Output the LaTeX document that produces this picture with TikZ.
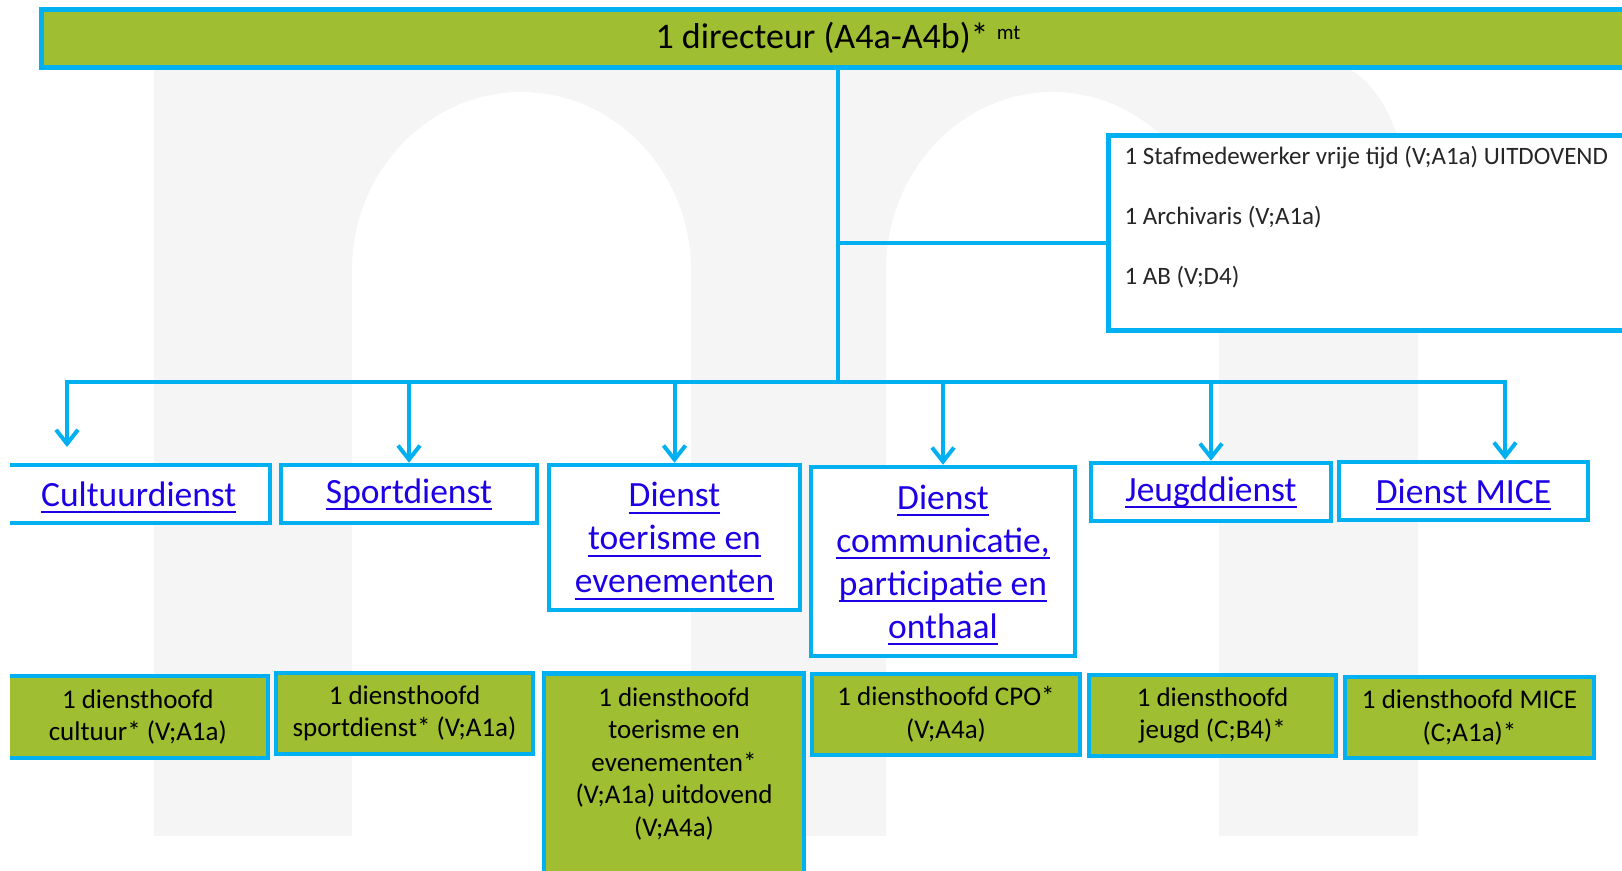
\documentclass[tikz,border=0pt]{standalone}
\usepackage{fontspec}
\setmainfont{Carlito}
\usetikzlibrary{arrows.meta}
\definecolor{ccyan}{HTML}{00B0F0}
\definecolor{cgreen}{HTML}{9FBE32}
\definecolor{clink}{HTML}{1E00E6}
\definecolor{cmark}{HTML}{F5F5F5}
\newcommand{\lnk}[1]{\setbox0\hbox{#1}\rlap{\smash{\rule[-7pt]{\wd0}{2pt}}}\box0}
\newcommand{\dirfont}{\fontsize{36}{43}\selectfont}
\newcommand{\deptfont}{\fontsize{35.5}{43}\selectfont}
\newcommand{\headfont}{\fontsize{27}{32.5}\selectfont}
\newcommand{\stafffont}{\fontsize{25}{30}\selectfont}
\tikzset{
  every picture/.style={line width=4pt},
  bar/.style={draw=ccyan, fill=cgreen, line width=5pt, inner sep=0pt, font=\dirfont},
  dept/.style={draw=ccyan, fill=white, line width=4.5pt, align=center, inner sep=0pt, text=clink, font=\deptfont},
  head/.style={draw=ccyan, fill=cgreen, line width=4.5pt, align=center, inner sep=0pt, font=\headfont},
  staffbox/.style={draw=ccyan, fill=white, line width=5pt, inner sep=0pt, font=\stafffont, text=black!85},
  link/.style={draw=ccyan, line width=4pt, line cap=rect},
  arrow/.style={draw=ccyan, line width=4pt, -{Straight Barb[length=14pt, width=22pt]}},
}

\begin{document}
\begin{tikzpicture}[x=1pt, y=-1pt]
  \useasboundingbox (0,0) rectangle (1622,870);
  \clip (10,0) rectangle (1622,870);
  % watermark
  \fill[cmark] (154,836) -- (154,62) -- (1320,62) .. controls (1390,62) and (1418,170) .. (1418,280)
    -- (1418,836) -- (1219,836) -- (1219,270) .. controls (1219,172) and (1144.5,92) .. (1052.5,92)
    .. controls (960.5,92) and (886,172) .. (886,270) -- (886,836) -- (691,836) -- (691,270)
    .. controls (691,172) and (615,92) .. (521.5,92) .. controls (428,92) and (352,172) .. (352,270)
    -- (352,836) -- cycle;
  % top
  \node[bar, minimum width=1594, minimum height=58] (dir) at (838,38) {1 directeur (A4a-A4b)* \raisebox{9pt}{\fontsize{21}{21}\selectfont mt}};
  \node[staffbox, anchor=north west] (staff) at (1106,133) {\parbox[c][195pt][t]{560pt}{\vspace*{11pt}\raggedright\leftskip=16pt
    1 Stafmedewerker vrije tijd (V;A1a) UITDOVEND\\[30pt]1 Archivaris (V;A1a)\\[30pt]1 AB (V;D4)}};
  % diensten
  \node[dept, minimum width=262.5, minimum height=58] (cult)  at (138.75,494) {\lnk{Cultuurdienst}};
  \node[dept, minimum width=256, minimum height=58]   (sport) at (409,494)    {\lnk{Sportdienst}};
  \node[dept, minimum width=251, minimum height=145]  (toer)  at (674.5,537.5) {\lnk{Dienst}\\\lnk{toerisme en}\\\lnk{evenementen}};
  \node[dept, minimum width=264, minimum height=189]  (comm)  at (943,561.5)  {\lnk{Dienst}\\\lnk{communicatie,}\\\lnk{participatie en}\\\lnk{onthaal}};
  \node[dept, minimum width=240, minimum height=58]   (jeugd) at (1211,492)   {\lnk{Jeugddienst}};
  \node[dept, minimum width=249, minimum height=58]   (mice)  at (1463.5,491) {\lnk{Dienst MICE}};
  % diensthoofden
  \node[head, minimum width=260.5, minimum height=82] (hcult)  at (137.75,717)  {1 diensthoofd\\cultuur* (V;A1a)};
  \node[head, minimum width=257, minimum height=81]   (hsport) at (404.5,713.5) {1 diensthoofd\\sportdienst* (V;A1a)};
  \node[head, anchor=north] (htoer) at (674,671) {\parbox[c][215pt][t]{260pt}{\vspace*{14pt}\centering
    1 diensthoofd\\toerisme en\\evenementen*\\(V;A1a) uitdovend\\(V;A4a)}};
  \node[head, minimum width=268, minimum height=81]   (hcomm)  at (946,714.5)   {1 diensthoofd CPO*\\(V;A4a)};
  \node[head, minimum width=247, minimum height=81]   (hjeugd) at (1212.5,715.5) {1 diensthoofd\\jeugd (C;B4)*};
  \node[head, minimum width=249, minimum height=81]   (hmice)  at (1469.5,717.5) {1 diensthoofd MICE\\(C;A1a)*};
  % lines
  \coordinate (stem) at (838,382);
  \coordinate (sb) at (838,243);
  \coordinate (busL) at (67,382);
  \coordinate (busR) at (1505,382);
  \draw[link] (dir.south) -- (stem);
  \draw[link] (sb) -- (sb -| staff.west);
  \draw[link] (busL) -- (busR);
  \draw[arrow] (busL) -- ++(0,65);
  \foreach \d in {sport, toer, comm, jeugd} { \draw[arrow] (busL -| \d.north) -- (\d.north); }
  \draw[arrow] (busR) -- (busR |- mice.north);
\end{tikzpicture}
\end{document}
